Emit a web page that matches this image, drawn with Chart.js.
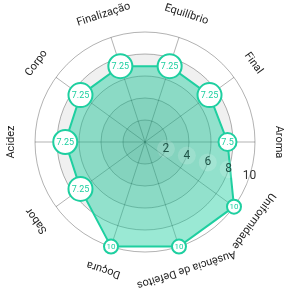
<!DOCTYPE html>
<html lang="pt">
<head>
<meta charset="UTF-8">
<title>Radar</title>
<style>
    html, body { margin: 0; padding: 0; background: #fff; }
    #box { width: 300px; height: 300px; }
</style>
</head>
<body>
<div id="box"><canvas id="myChart"></canvas></div>
<script src="https://cdn.jsdelivr.net/npm/chart.js/dist/chart.umd.min.js"></script>
<script>
    // dados (começando em Aroma, sentido horário)
    const categorias = ['Aroma', 'Uniformidade', 'Ausência de Defeitos', 'Doçura', 'Sabor',
        'Acidez', 'Corpo', 'Finalização', 'Equilíbrio', 'Final'];
    const notas = [7.5, 10, 10, 10, 7.25, 7.25, 7.25, 7.25, 7.25, 7.25];
    const escala = [2, 4, 6, 8, 10];

    const verde = '#1ecfa0';
    const fonte = 'Roboto, "Noto Sans", sans-serif';

    // faixas de fundo (0-2 mais escura ... 8-10 branca)
    const faixas = ['#cacaca', '#d8d8d8', '#e4e4e4', '#f0f0f0', '#ffffff'];

    const fundoPlugin = {
        id: 'fundo',
        beforeDraw(chart) {
            const r = chart.scales.r;
            const ctx = chart.ctx;
            ctx.save();
            for (let i = escala.length - 1; i >= 0; i--) {
                ctx.beginPath();
                ctx.arc(r.xCenter, r.yCenter, r.getDistanceFromCenterForValue(escala[i]), 0, Math.PI * 2);
                ctx.fillStyle = faixas[i];
                ctx.fill();
            }
            ctx.restore();
        }
    };

    const textosPlugin = {
        id: 'textos',
        afterDatasetsDraw(chart) {
            const r = chart.scales.r;
            const ctx = chart.ctx;
            ctx.save();
            ctx.textAlign = 'center';
            ctx.textBaseline = 'middle';

            // rótulos das categorias, girados
            ctx.font = '11px ' + fonte;
            ctx.fillStyle = '#222';
            categorias.forEach((c, i) => {
                const p = r.getPointPosition(i, r.drawingArea + 24);
                ctx.save();
                ctx.translate(p.x, p.y);
                ctx.rotate(r.getIndexAngle(i));
                ctx.fillText(c, 0, 0);
                ctx.restore();
            });

            // valores da escala, entre Aroma e Uniformidade
            const ang = 108 * Math.PI / 180;
            escala.forEach((v) => {
                const d = r.getDistanceFromCenterForValue(v);
                const x = r.xCenter + Math.sin(ang) * d;
                const y = r.yCenter - Math.cos(ang) * d;
                ctx.beginPath();
                ctx.arc(x, y, 9, 0, Math.PI * 2);
                ctx.fillStyle = 'rgba(255,255,255,0.15)';
                ctx.fill();
                ctx.font = '12px ' + fonte;
                ctx.fillStyle = v >= 10 ? '#333' : '#1f5447';
                ctx.fillText(String(v), x, y);
            });

            // valores nos pontos
            const meta = chart.getDatasetMeta(0);
            meta.data.forEach((pt, i) => {
                const v = notas[i];
                ctx.font = (v >= 10 ? '8px ' : '9px ') + fonte;
                ctx.fillStyle = verde;
                ctx.fillText(String(v), pt.x, pt.y + 0.5);
            });
            ctx.restore();
        }
    };

    const ctx = document.getElementById('myChart');

    new Chart(ctx, {
        type: 'radar',
        data: {
            labels: categorias,
            datasets: [{
                data: notas,
                backgroundColor: 'rgba(30, 207, 160, 0.45)',
                borderColor: verde,
                borderWidth: 2,
                pointBackgroundColor: '#fff',
                pointBorderColor: verde,
                pointBorderWidth: 2,
                pointRadius: (c) => {
                    const v = c.raw;
                    if (v >= 10) return 7;
                    if (v >= 7.5) return 9;
                    return 12;
                },
                pointHoverRadius: 12,
                clip: false
            }]
        },
        options: {
            responsive: true,
            maintainAspectRatio: false,
            animation: false,
            layout: { padding: { left: 35, right: 45, top: 32, bottom: 48 } },
            plugins: {
                legend: { display: false },
                tooltip: { enabled: false }
            },
            scales: {
                r: {
                    min: 0,
                    max: 10,
                    startAngle: 90,
                    ticks: { stepSize: 2, display: false },
                    pointLabels: { display: false },
                    grid: { circular: true, color: 'rgba(0,0,0,0.3)' },
                    angleLines: { color: 'rgba(0,0,0,0.3)' }
                }
            }
        },
        plugins: [fundoPlugin, textosPlugin]
    });
</script>
</body>
</html>
